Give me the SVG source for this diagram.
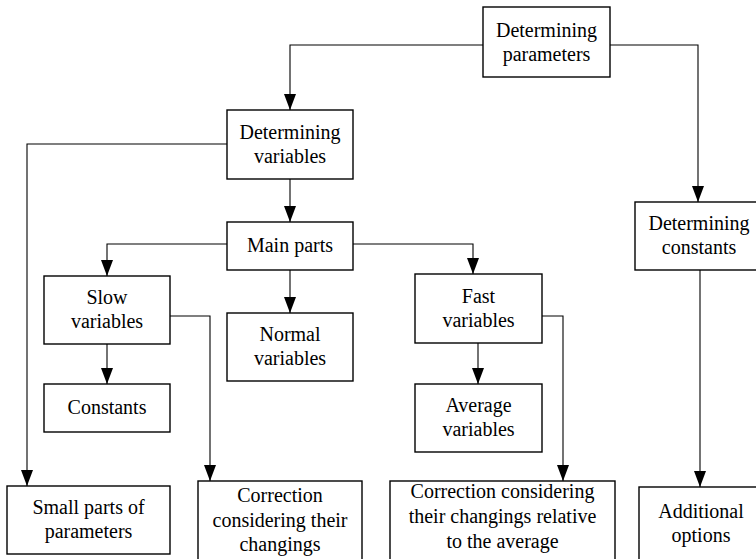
<svg xmlns="http://www.w3.org/2000/svg" width="756" height="559" viewBox="0 0 756 559">
<style>
.box{fill:#fff;stroke:#000;stroke-width:1.4}
.t{font-family:"Liberation Serif","DejaVu Serif",serif;font-size:20px;fill:#000;text-anchor:middle}
.c{fill:none;stroke:#000;stroke-width:1.1}
</style>
<defs>
<marker id="ah" markerUnits="userSpaceOnUse" markerWidth="16" markerHeight="12" refX="16" refY="6" orient="auto">
<path d="M0,0 L16,6 L0,12 z" fill="#000"/>
</marker>
</defs>
<rect width="756" height="559" fill="#fff"/>
<g id="connectors">
<polyline class="c" points="483,45 290,45 290,110" marker-end="url(#ah)"/>
<polyline class="c" points="610,45 698,45 698,202" marker-end="url(#ah)"/>
<polyline class="c" points="227,144 27,144 27,486" marker-end="url(#ah)"/>
<polyline class="c" points="290,179 290,222" marker-end="url(#ah)"/>
<polyline class="c" points="227,244 107,244 107,276" marker-end="url(#ah)"/>
<polyline class="c" points="290,270 290,313" marker-end="url(#ah)"/>
<polyline class="c" points="353,244 473,244 473,274" marker-end="url(#ah)"/>
<polyline class="c" points="107,344 107,384" marker-end="url(#ah)"/>
<polyline class="c" points="170,316 210,316 210,481" marker-end="url(#ah)"/>
<polyline class="c" points="478,343 478,384" marker-end="url(#ah)"/>
<polyline class="c" points="542,316 563,316 563,481" marker-end="url(#ah)"/>
<polyline class="c" points="700,270 700,487" marker-end="url(#ah)"/>
</g>
<g id="determining-parameters">
<rect class="box" x="483" y="7" width="127" height="70"/>
<text class="t" x="546.5" y="37">Determining</text>
<text class="t" x="546.5" y="61">parameters</text>
</g>
<g id="determining-variables">
<rect class="box" x="227" y="110" width="126" height="69"/>
<text class="t" x="290" y="139">Determining</text>
<text class="t" x="290" y="163">variables</text>
</g>
<g id="determining-constants">
<rect class="box" x="635" y="202" width="130" height="68"/>
<text class="t" x="699" y="230">Determining</text>
<text class="t" x="699" y="254">constants</text>
</g>
<g id="main-parts">
<rect class="box" x="227" y="222" width="126" height="48"/>
<text class="t" x="290" y="252">Main parts</text>
</g>
<g id="slow-variables">
<rect class="box" x="44" y="276" width="126" height="68"/>
<text class="t" x="107" y="304">Slow</text>
<text class="t" x="107" y="328">variables</text>
</g>
<g id="normal-variables">
<rect class="box" x="227" y="313" width="126" height="68"/>
<text class="t" x="290" y="341">Normal</text>
<text class="t" x="290" y="365">variables</text>
</g>
<g id="fast-variables">
<rect class="box" x="415" y="274" width="127" height="69"/>
<text class="t" x="478.5" y="303">Fast</text>
<text class="t" x="478.5" y="327">variables</text>
</g>
<g id="constants">
<rect class="box" x="44" y="384" width="126" height="48"/>
<text class="t" x="107" y="414">Constants</text>
</g>
<g id="average-variables">
<rect class="box" x="415" y="384" width="127" height="68"/>
<text class="t" x="478.5" y="412">Average</text>
<text class="t" x="478.5" y="436">variables</text>
</g>
<g id="small-parts">
<rect class="box" x="7" y="486" width="163" height="68"/>
<text class="t" x="88.5" y="514">Small parts of</text>
<text class="t" x="88.5" y="538">parameters</text>
</g>
<g id="correction-changings">
<rect class="box" x="198" y="481" width="164" height="85"/>
<text class="t" x="280" y="502">Correction</text>
<text class="t" x="280" y="527">considering their</text>
<text class="t" x="280" y="551">changings</text>
</g>
<g id="correction-relative">
<rect class="box" x="390" y="481" width="225" height="85"/>
<text class="t" x="502.5" y="498">Correction considering</text>
<text class="t" x="502.5" y="523">their changings relative</text>
<text class="t" x="502.5" y="548">to the average</text>
</g>
<g id="additional-options">
<rect class="box" x="639" y="487" width="126" height="80"/>
<text class="t" x="701" y="518">Additional</text>
<text class="t" x="701" y="542">options</text>
</g>
</svg>
